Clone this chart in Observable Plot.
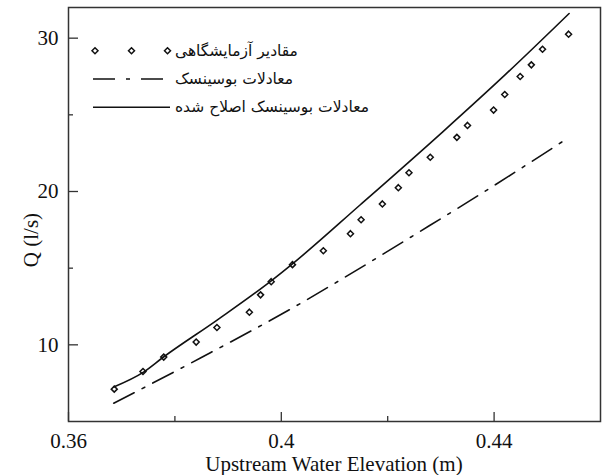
<!DOCTYPE html>
<html><head><meta charset="utf-8">
<script src="https://cdn.jsdelivr.net/npm/d3@7"></script>
<script src="https://cdn.jsdelivr.net/npm/@observablehq/plot@0.6"></script>
<style>body{margin:0;background:#fff}</style>
</head><body><div id="chart"></div>
<script>
// Experimental values (مقادیر آزمایشگاهی)
const expX = [0.3686,0.3740,0.3779,0.3840,0.3879,0.3940,0.3961,0.3981,0.4021,0.4079,0.4130,0.4150,0.4190,0.4220,0.4240,0.4280,0.4330,0.4350,0.4399,0.4420,0.4449,0.4470,0.4491,0.4540];
const expQ = [7.11,8.26,9.20,10.18,11.13,12.13,13.26,14.12,15.23,16.14,17.25,18.16,19.19,20.25,21.22,22.23,23.53,24.31,25.31,26.33,27.50,28.26,29.28,30.26];
// Modified Boussinesq (solid)
const modX = [0.3685,0.3741,0.3778,0.3880,0.3981,0.4021,0.4148,0.4304,0.4421,0.4541];
const modQ = [7.25,8.22,9.19,11.63,14.17,15.28,19.12,23.91,27.62,31.61];
// Boussinesq (dash-dot)
const bouX = [0.3685,0.3848,0.4026,0.4111,0.4261,0.4374,0.4531];
const bouQ = [6.19,9.14,12.50,14.23,17.40,19.82,23.31];

const xTicks = [0.36, 0.4, 0.44];
const xMinor = [0.38, 0.42];
const yTicks = [10, 20, 30];
const yMinor = [15, 25];
const xDomain = [0.36, 0.46];
const yDomain = [5, 32];
const xLabel = "Upstream Water Elevation (m)";
const yLabel = "Q (l/s)";
const legendLabels = ["مقادیر آزمایشگاهی", "معادلات بوسینسک", "معادلات بوسینسک اصلاح شده"];

const expData = expX.map((x, i) => ({x, q: expQ[i]}));
const modData = modX.map((x, i) => ({x, q: modQ[i]}));
const bouData = bouX.map((x, i) => ({x, q: bouQ[i]}));

const W = 603, H = 475, mL = 68, mR = 3, mT = 7, mB = 54;
const plotW = W - mL - mR, plotH = H - mT - mB;
const ink = "#111";
const serif = "'Liberation Serif', 'Times New Roman', serif";
const dashDot = "23,9,3,9";

const chart = Plot.plot({
  width: W, height: H,
  marginLeft: mL, marginRight: mR, marginTop: mT, marginBottom: mB,
  style: {fontFamily: serif, fontSize: "21px", background: "#fff", color: ink},
  x: {domain: xDomain},
  y: {domain: yDomain},
  marks: [
    Plot.axisX(xTicks, {tickSize: 0, tickPadding: 12, tickFormat: d => String(d), label: null, fontSize: 21}),
    Plot.axisY(yTicks, {tickSize: 0, tickPadding: 10, tickFormat: d => String(d), label: null, fontSize: 21}),
    Plot.tickX(xTicks, {x: d => d, insetTop: plotH - 9, stroke: "#333", strokeWidth: 1.3}),
    Plot.tickX(xMinor, {x: d => d, insetTop: plotH - 5, stroke: "#333", strokeWidth: 1.3}),
    Plot.tickY(yTicks, {y: d => d, insetRight: plotW - 10, stroke: "#333", strokeWidth: 1.3}),
    Plot.tickY(yMinor, {y: d => d, insetRight: plotW - 5, stroke: "#333", strokeWidth: 1.3}),
    Plot.line(bouData, {x: "x", y: "q", curve: "monotone-x", stroke: ink, strokeWidth: 1.6, strokeDasharray: dashDot}),
    Plot.line(modData, {x: "x", y: "q", curve: "monotone-x", stroke: ink, strokeWidth: 1.6}),
    Plot.dot(expData, {x: "x", y: "q", symbol: "diamond2", r: 2.7, stroke: ink, strokeWidth: 1.5, fill: "none"}),
    Plot.frame({stroke: "#333", strokeWidth: 1.5})
  ]
});
document.getElementById("chart").appendChild(chart);

const svg = d3.select(chart);
// Axis titles
svg.append("text").attr("x", mL + plotW / 2).attr("y", 471).attr("text-anchor", "middle")
  .attr("font-family", serif).attr("font-size", 21).attr("fill", ink).text(xLabel);
svg.append("text").attr("transform", "translate(31,240) rotate(-90)")
  .attr("text-anchor", "middle").attr("dy", "0.35em")
  .attr("font-family", serif).attr("font-size", 21).attr("fill", ink).text(yLabel);

// Legend (inside top-left of the plot area)
const rowsY = [50.7, 79, 107.3];
const lg = svg.append("g").attr("font-family", "'DejaVu Sans', sans-serif").attr("font-size", 15.5).attr("fill", ink);
const diamondPath = d3.symbol(d3.symbolDiamond2, Math.PI * 2.7 * 2.7)();
[95, 131.5, 167.5].forEach(px => {
  lg.append("path").attr("d", diamondPath).attr("transform", `translate(${px},${rowsY[0]})`)
    .attr("fill", "none").attr("stroke", ink).attr("stroke-width", 1.5);
});
lg.append("line").attr("x1", 93).attr("x2", 170).attr("y1", rowsY[1]).attr("y2", rowsY[1])
  .attr("stroke", ink).attr("stroke-width", 1.6).attr("stroke-dasharray", "22,11,4,11");
lg.append("line").attr("x1", 93).attr("x2", 170).attr("y1", rowsY[2]).attr("y2", rowsY[2])
  .attr("stroke", ink).attr("stroke-width", 1.6);
legendLabels.forEach((t, i) => {
  const el = lg.append("text").attr("x", 175).attr("y", rowsY[i]).attr("dy", "0.32em").text(t);
  const bb = el.node().getBBox();
  el.attr("x", 175 + (175 - bb.x));
});
</script>
</body></html>
